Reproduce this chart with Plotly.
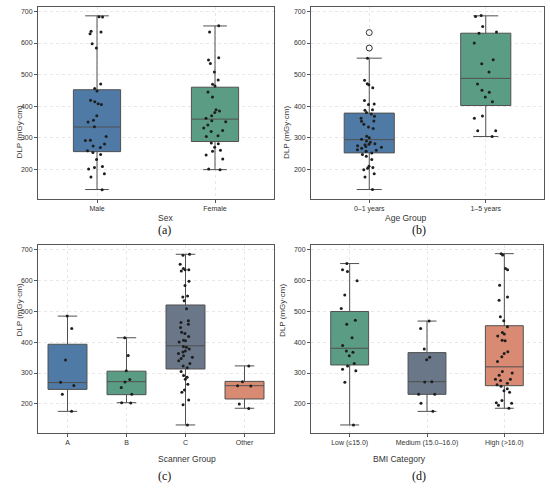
from plotly.graph_objs import Figure, Box, Scatter
from plotly.subplots import make_subplots

# ---- data (DLP in mGy*cm) ----
sex_cats = ['Male', 'Female']
male_dlp = [683, 682, 637, 635, 629, 598, 584, 470, 456, 448, 419, 414, 408, 405, 370, 355, 350, 335,
            304, 292, 291, 280, 274, 269, 259, 253, 247, 231, 209, 206, 201, 186, 176, 135]
female_dlp = [655, 635, 553, 546, 535, 508, 483, 469, 464, 445, 429, 389, 385, 380, 370, 362, 354, 351,
              340, 331, 323, 320, 306, 304, 283, 281, 270, 260, 257, 245, 233, 201, 199]
sex_q1 = [256, 288]
sex_med = [334, 359]
sex_q3 = [452, 460]
sex_lo = [136, 199]
sex_hi = [686, 654]

age_cats = ['0–1 years', '1–5 years']
age01_dlp = [552, 482, 471, 468, 458, 418, 407, 405, 389, 387, 380, 375, 368, 362, 353, 352, 343, 334,
             329, 305, 300, 295, 290, 286, 281, 279, 278, 275, 272, 270, 267, 262, 260, 257, 252, 247,
             241, 231, 210, 206, 203, 199, 186, 176, 136]
age01_outliers = [633, 584]
age15_dlp = [687, 684, 652, 635, 631, 600, 547, 534, 508, 470, 450, 444, 429, 414, 369, 362, 322, 322, 304]
age_q1 = [252, 402]
age_med = [294, 488]
age_q3 = [378, 631]
age_lo = [136, 304]
age_hi = [552, 686]

scan_cats = ['A', 'B', 'C', 'Other']
scanA_dlp = [484, 444, 342, 270, 260, 231, 176]
scanB_dlp = [414, 357, 307, 279, 271, 253, 231, 204, 203]
scanC_dlp = [684, 681, 652, 638, 634, 634, 630, 597, 583, 549, 546, 534, 508, 469, 463, 458, 447, 432,
             428, 418, 406, 404, 400, 386, 383, 378, 371, 368, 363, 356, 351, 347, 340, 331, 323, 317,
             305, 292, 286, 280, 264, 245, 238, 213, 197, 132]
scanO_dlp = [323, 272, 259, 258, 200, 185]
scan_q1 = [247, 230, 313, 216]
scan_med = [269, 272, 388, 259]
scan_q3 = [393, 306, 520, 273]
scan_lo = [176, 204, 132, 186]
scan_hi = [484, 414, 684, 323]

bmi_cats = ['Low (≤15.0)', 'Medium (15.0–16.0)', 'High (>16.0)']
bmiL_dlp = [654, 634, 628, 598, 552, 509, 471, 458, 414, 389, 371, 367, 356, 331, 323, 312, 307, 270, 132]
bmiM_dlp = [468, 444, 378, 351, 343, 272, 271, 231, 231, 202, 176]
bmiH_dlp = [686, 682, 638, 634, 584, 546, 535, 482, 469, 450, 431, 426, 420, 406, 404, 369, 363, 353,
            337, 305, 300, 293, 280, 280, 276, 267, 262, 257, 249, 243, 238, 211, 204, 202, 196, 186]
bmi_q1 = [326, 231, 259]
bmi_med = [380, 272, 320]
bmi_q3 = [499, 366, 453]
bmi_lo = [132, 176, 186]
bmi_hi = [654, 468, 686]

BLUE = '#4f7aa6'
GREEN = '#5b9d84'
SLATE = '#697788'
SALMON = '#d98a73'

W, H = 550, 488


def px_x(p):
	return p / W


def px_y(p):
	return 1 - p / H


fig = make_subplots(rows=2, cols=2)
doms = {
	(1, 1): ([38, 274], [7, 199]),
	(1, 2): ([311, 544], [7, 199]),
	(2, 1): ([38, 274], [245, 433]),
	(2, 2): ([311, 543], [245, 433]),
}


def add_panel(row, col, cats, groups, colors, q1, med, q3, lo, hi, width, jit):
	for i, c in enumerate(cats):
		fig.add_trace(Box(x=[c], q1=[q1[i]], median=[med[i]], q3=[q3[i]],
						  lowerfence=[lo[i]], upperfence=[hi[i]], boxpoints=False,
						  fillcolor=colors[i], line=dict(color='#505050', width=1),
						  whiskerwidth=0.5, width=width, showlegend=False), row=row, col=col)
	for i, c in enumerate(cats):
		fig.add_trace(Box(x=[c] * len(groups[i]), y=groups[i], boxpoints='all', jitter=jit, pointpos=0,
						  fillcolor='rgba(0,0,0,0)', line=dict(color='rgba(0,0,0,0)', width=0),
						  marker=dict(color='#1e1e1e', size=3), width=width, showlegend=False),
					  row=row, col=col)
	xd, yd = doms[(row, col)]
	fig.update_xaxes(domain=[px_x(xd[0]), px_x(xd[1])], type='category', categoryorder='array',
					 categoryarray=cats, range=[-0.5, len(cats) - 0.5], row=row, col=col)
	fig.update_yaxes(domain=[px_y(yd[1]), px_y(yd[0])], range=[106, 714], tickvals=[200, 300, 400, 500, 600, 700],
					 row=row, col=col)


add_panel(1, 1, sex_cats, [male_dlp, female_dlp], [BLUE, GREEN], sex_q1, sex_med, sex_q3, sex_lo, sex_hi, 0.4, 0.55)
add_panel(1, 2, age_cats, [age01_dlp, age15_dlp], [BLUE, GREEN], age_q1, age_med, age_q3, age_lo, age_hi, 0.43, 0.55)
fig.add_trace(Scatter(x=[age_cats[0]] * len(age01_outliers), y=age01_outliers, mode='markers',
					  marker=dict(symbol='circle-open', size=6, color='#333', line=dict(width=1)),
					  showlegend=False), row=1, col=2)
add_panel(2, 1, scan_cats, [scanA_dlp, scanB_dlp, scanC_dlp, scanO_dlp], [BLUE, GREEN, SLATE, SALMON],
		  scan_q1, scan_med, scan_q3, scan_lo, scan_hi, 0.66, 0.42)
add_panel(2, 2, bmi_cats, [bmiL_dlp, bmiM_dlp, bmiH_dlp], [GREEN, SLATE, SALMON],
		  bmi_q1, bmi_med, bmi_q3, bmi_lo, bmi_hi, 0.49, 0.6)

axis_style = dict(showline=True, mirror=True, linecolor='#555', linewidth=1, ticks='outside', ticklen=3,
				  tickcolor='#555', tickfont=dict(size=7, color='#333', family='Liberation Sans'),
				  showgrid=True, gridcolor='#e8e8e8', griddash='dot', gridwidth=0.7, zeroline=False)
fig.update_xaxes(**axis_style)
fig.update_yaxes(**axis_style)

# titles and panel letters
labels = [
	('Sex', 'DLP (mGy·cm)', '(a)', 156, 12, 218, 230, 103),
	('Age Group', 'DLP (mGy·cm)', '(b)', 428, 286, 218, 230, 103),
	('Scanner Group', 'DLP (mGy·cm)', '(c)', 156, 12, 459, 476, 339),
	('BMI Category', 'DLP (mGy·cm)', '(d)', 428, 282, 459, 476, 339),
]
for xt, yt, lt, cx, yx, ty, ly, my in labels:
	fig.add_annotation(text=xt, x=px_x(cx), y=px_y(ty), xref='paper', yref='paper', showarrow=False,
					   yanchor='middle', font=dict(size=8.5, color='#333', family='Liberation Sans'))
	fig.add_annotation(text=yt, x=px_x(yx), y=px_y(my), xref='paper', yref='paper', showarrow=False,
					   textangle=-90, font=dict(size=8, color='#333', family='Liberation Sans'))
	fig.add_annotation(text=lt, x=px_x(cx), y=px_y(ly), xref='paper', yref='paper', showarrow=False,
					   yanchor='middle', font=dict(size=12, color='#111', family='Liberation Serif'))

fig.update_layout(width=W, height=H, margin=dict(l=0, r=0, t=0, b=0), paper_bgcolor='white',
				  plot_bgcolor='white', boxmode='overlay', showlegend=False)

# browser default body margin would push the figure 8px off
fig.write_html("out.html", config={'displayModeBar': False},
			   post_script="document.body.style.margin='0';")
